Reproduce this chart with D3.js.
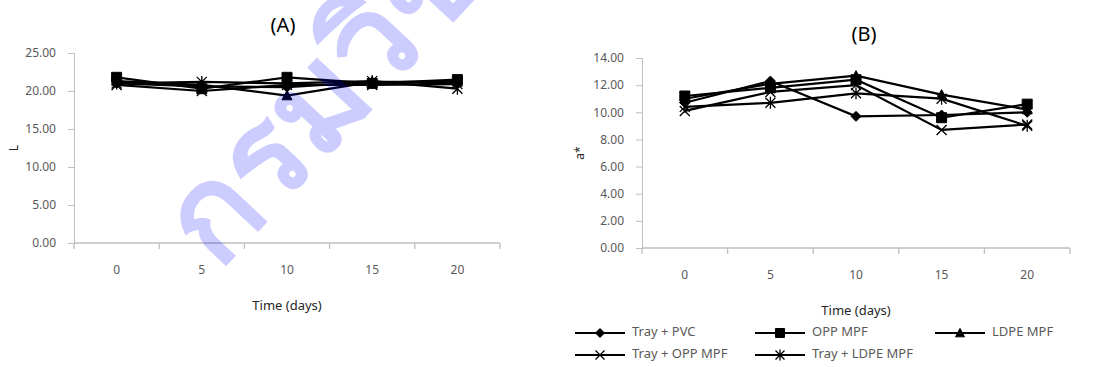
<!DOCTYPE html>
<html>
<head>
<meta charset="utf-8">
<script src="https://cdn.jsdelivr.net/npm/d3@7"></script>
<style>
  html, body { margin: 0; padding: 0; background: #fff; }
  svg { display: block; font-family: "Noto Sans", "Open Sans", sans-serif; }
</style>
</head>
<body>
<svg id="chart" width="1096" height="367"></svg>
<script>
// Storage days
const days = ["0", "5", "10", "15", "20"];

// Packaging treatments
const seriesNames = ["Tray + PVC", "OPP MPF", "LDPE MPF", "Tray + OPP MPF", "Tray + LDPE MPF"];
const seriesMarkers = ["diamond", "square", "triangle", "cross", "star"];

// Lightness (L)
const lTrayPVC     = [21.0, 20.6, 20.5, 21.2, 21.0];
const lOPP         = [21.8, 20.3, 21.8, 21.0, 21.5];
const lLDPE        = [21.3, 20.8, 19.4, 21.2, 21.2];
const lTrayOPP     = [20.8, 20.0, 20.8, 20.8, 20.9];
const lTrayLDPE    = [21.0, 21.2, 21.0, 21.3, 20.3];

// Redness (a*)
const aTrayPVC     = [10.7, 12.3, 9.7, 9.8, 10.0];
const aOPP         = [11.2, 11.8, 12.4, 9.6, 10.6];
const aLDPE        = [11.0, 12.1, 12.7, 11.3, 10.2];
const aTrayOPP     = [10.1, 11.5, 12.0, 8.7, 9.1];
const aTrayLDPE    = [10.4, 10.7, 11.4, 11.0, 9.0];

const lTicks = [0, 5, 10, 15, 20, 25];
const aTicks = [0, 2, 4, 6, 8, 10, 12, 14];

const svg = d3.select("#chart");

// Marker shapes drawn around (0,0)
function markerPath(kind, s) {
  const p = d3.path();
  if (kind === "diamond") {
    p.moveTo(0, -s); p.lineTo(s, 0); p.lineTo(0, s); p.lineTo(-s, 0); p.closePath();
  } else if (kind === "square") {
    p.rect(-s, -s, 2 * s, 2 * s);
  } else if (kind === "triangle") {
    p.moveTo(0, -s); p.lineTo(s, s * 0.85); p.lineTo(-s, s * 0.85); p.closePath();
  } else if (kind === "cross") {
    p.moveTo(-s, -s); p.lineTo(s, s); p.moveTo(s, -s); p.lineTo(-s, s);
  } else if (kind === "star") {
    p.moveTo(-s, -s); p.lineTo(s, s); p.moveTo(s, -s); p.lineTo(-s, s);
    p.moveTo(0, -s * 1.2); p.lineTo(0, s * 1.2);
  }
  return p.toString();
}

function drawMarker(g, kind, x, y, s) {
  const filled = kind === "diamond" || kind === "square" || kind === "triangle";
  g.append("path")
    .attr("transform", `translate(${x},${y})`)
    .attr("d", markerPath(kind, s))
    .attr("fill", filled ? "#000" : "none")
    .attr("stroke", "#000")
    .attr("stroke-width", filled ? 1 : 1.3);
}

function panel(opts) {
  const { left, right, top, bottom, yMax, ticks, series, title, titleX, titleY, yLabel, yLabelX, xLabelY } = opts;
  const g = svg.append("g");

  const x = d3.scaleBand().domain(days).range([left, right]).paddingInner(0).paddingOuter(0);
  const y = d3.scaleLinear().domain([0, yMax]).range([bottom, top]);

  // Y axis
  const yAxis = g.append("g")
    .attr("transform", `translate(${left},0)`)
    .call(d3.axisLeft(y).tickValues(ticks).tickSize(6).tickPadding(12).tickFormat(d3.format(".2f")));
  yAxis.select(".domain").attr("stroke", "#bfbfbf").attr("stroke-width", 1);
  yAxis.selectAll(".tick line").attr("stroke", "#bfbfbf");
  yAxis.selectAll(".tick text").attr("fill", "#595959").style("font-size", "12px")
    .style("font-family", "'Noto Sans', sans-serif");

  // X axis: ticks at category boundaries, labels centred in bands
  const xg = g.append("g").attr("transform", `translate(0,${bottom})`);
  xg.append("line").attr("x1", left).attr("x2", right).attr("y1", 0).attr("y2", 0)
    .attr("stroke", "#bfbfbf").attr("stroke-width", 1.3);
  const bounds = days.map(d => x(d)).concat([right]);
  xg.selectAll("line.tk").data(bounds).join("line").attr("class", "tk")
    .attr("x1", d => d).attr("x2", d => d).attr("y1", 0).attr("y2", 6)
    .attr("stroke", "#bfbfbf").attr("stroke-width", 1.3);
  xg.selectAll("text").data(days).join("text")
    .attr("x", d => x(d) + x.bandwidth() / 2).attr("y", 31)
    .attr("text-anchor", "middle").attr("fill", "#595959").style("font-size", "12px")
    .text(d => d);

  // Series lines and markers
  const cx = d => x(d) + x.bandwidth() / 2;
  const line = d3.line().x((v, i) => cx(days[i])).y(v => y(v));
  series.forEach((vals) => {
    g.append("path").attr("d", line(vals)).attr("fill", "none")
      .attr("stroke", "#000").attr("stroke-width", 2.2);
  });
  series.forEach((vals, si) => {
    vals.forEach((v, i) => drawMarker(g, seriesMarkers[si], cx(days[i]), y(v), 5));
  });

  // Titles
  g.append("text").attr("x", titleX).attr("y", titleY).attr("text-anchor", "middle")
    .style("font-size", "20px").attr("fill", "#000").text(title);
  g.append("text").attr("transform", `translate(${yLabelX},${(top + bottom) / 2}) rotate(-90)`)
    .attr("text-anchor", "middle").style("font-size", "12px").attr("fill", "#262626").text(yLabel);
  g.append("text").attr("x", (left + right) / 2).attr("y", xLabelY).attr("text-anchor", "middle")
    .style("font-size", "13px").attr("fill", "#262626").text("Time (days)");
}

panel({
  left: 74, right: 500, top: 53, bottom: 243, yMax: 25, ticks: lTicks,
  series: [lTrayPVC, lOPP, lLDPE, lTrayOPP, lTrayLDPE],
  title: "(A)", titleX: 283, titleY: 32, yLabel: "L", yLabelX: 18, xLabelY: 310
});

panel({
  left: 642, right: 1070, top: 58, bottom: 248, yMax: 14, ticks: aTicks,
  series: [aTrayPVC, aOPP, aLDPE, aTrayOPP, aTrayLDPE],
  title: "(B)", titleX: 864, titleY: 41, yLabel: "a*", yLabelX: 584, xLabelY: 315
});

// Legend
const legendPos = [[575, 333], [755, 333], [935, 333], [575, 355], [755, 355]];
const lg = svg.append("g");
seriesNames.forEach((name, i) => {
  const [lx, ly] = legendPos[i];
  lg.append("line").attr("x1", lx).attr("x2", lx + 50).attr("y1", ly).attr("y2", ly)
    .attr("stroke", "#000").attr("stroke-width", 2.2);
  drawMarker(lg, seriesMarkers[i], lx + 25, ly, 4.5);
  lg.append("text").attr("x", lx + 57).attr("y", ly + 3).style("font-size", "13px")
    .attr("fill", "#595959").text(name);
});

// Watermark
svg.append("text")
  .attr("transform", "translate(218,272) rotate(-47)")
  .style("font-size", "130px").style("font-weight", "bold")
  .attr("fill", "#0000ff").attr("fill-opacity", 0.2)
  .text("กรมวิชาการเกษตร");
</script>
</body>
</html>
